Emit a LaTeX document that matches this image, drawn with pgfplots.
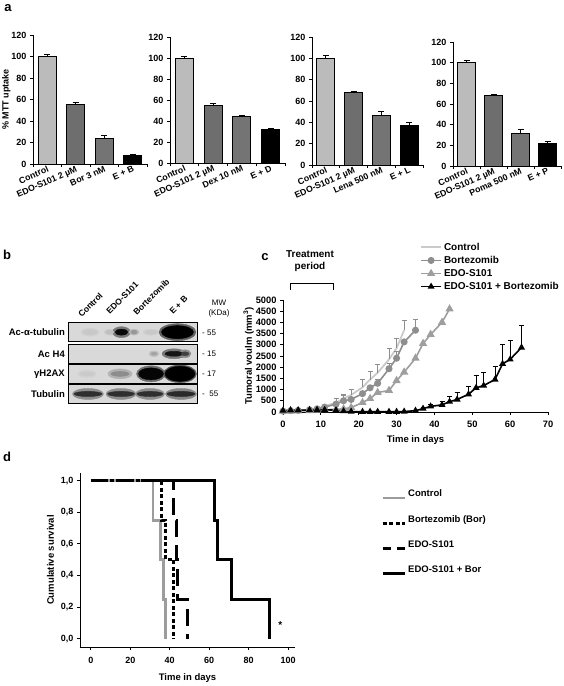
\documentclass[border=0pt]{standalone}
\usepackage{fontspec}
\setmainfont{Liberation Sans}
\usepackage{pgfplots}
\usepackage{pgfplotstable}
\pgfplotsset{compat=1.18}
\definecolor{barA}{HTML}{BBBBBB}
\definecolor{barB}{HTML}{6E6E6E}
\definecolor{barC}{HTML}{747474}
\definecolor{ctrl}{HTML}{CACACA}
\definecolor{bort}{HTML}{8E8E8E}
\definecolor{edo}{HTML}{9E9E9E}
\definecolor{kmgray}{HTML}{9C9C9C}
\definecolor{blotbg}{HTML}{D9D9D9}
\newcommand{\fs}[1]{\fontsize{#1}{#1}\selectfont}

% western blot bands: lane x (px), row y (-px), core half-size, intensity; halo half-size, intensity
\pgfplotstableread{
x     y       w    h    c     hw   hh   hc
90    -332.5  7    2.5  0.08  9    4    0.04
110   -332.5  4    2    0.12  6    3    0.06
121.5 -332.5  6.5  3    0.95  9    5.5  0.45
134   -332.5  3    2    0.30  5    3    0.15
151   -332.5  6    2    0.08  8    3    0.04
177.5 -332.5  16   6.5  1.00  18.5 8.5  0.55
154   -354    3    1.5  0.25  5    3    0.12
174   -354    9    2.5  0.90  12   5    0.45
185   -354    4    2    0.70  6    4    0.35
87    -374    7    2    0.07  9    4    0.03
120   -374    9    2.5  0.35  12   5    0.18
151   -374    12.5 6    0.97  14.5 8    0.50
180   -374    15   7.5  1.00  16.5 8.8  0.60
88    -394    14   2.6  0.78  15.5 5.5  0.35
121   -394    13.5 2.6  0.78  15   5.5  0.35
150   -394    13   2.6  0.78  14.5 5.5  0.35
181   -394    14   2.6  0.80  15.5 5.5  0.38
}\blotdata

\pgfplotsset{
  myax/.style={scale only axis, anchor=south west,
    axis lines=left, axis line style={-, line width=0.8pt},
    tick align=outside, major tick length=3pt,
    every tick/.style={black, line width=0.8pt},
    /pgf/number format/assume math mode=true,
    ticklabel style={font=\bfseries\fs{8.5}},
    label style={font=\bfseries\fs{9.5}},
  },
  barax/.style={myax, ymin=0, ymax=120, ytick={0,20,...,120},
    xmin=-0.5, xmax=3.5, xtick={-0.5,0.5,1.5,2.5,3.5}, xticklabels={},
    ticklabel style={font=\bfseries\fs{9}},
    extra x ticks={0,1,2,3},
    extra x tick style={major tick length=0pt,
      xticklabel style={rotate=24, anchor=north east, inner sep=1pt, font=\bfseries\fs{8.8}}},
    ybar, bar width=18pt, clip=false,
    ylabel style={yshift=-6pt, font=\bfseries\fs{9}},
    every axis plot/.append style={draw=black, line width=0.8pt, bar shift=0pt,
      error bars/y dir=plus, error bars/y explicit,
      error bars/error bar style={line width=0.8pt, black},
      error bars/error mark options={rotate=90, mark size=3pt, line width=0.8pt, black}},
  },
}

\begin{document}
\begin{tikzpicture}[x=1pt, y=1pt]
\path[use as bounding box] (0,0) rectangle (563,686);

% ---------------- panel a ----------------
\node[anchor=center, font=\bfseries\fs{13}] at (8,678) {a};

\begin{axis}[barax, at={(33pt,522pt)}, width=114pt, height=129pt,
  ylabel={\% MTT uptake},
  extra x tick labels={Control, EDO-S101 2 µM, Bor 3 nM, E + B}]
\addplot[fill=barA] coordinates {(0,100) +- (0,2)};
\addplot[fill=barB] coordinates {(1,55) +- (0,2)};
\addplot[fill=barC] coordinates {(2,23.5) +- (0,3.5)};
\addplot[fill=black] coordinates {(3,8) +- (0,1)};
\end{axis}

\begin{axis}[barax, at={(170pt,522.5pt)}, width=115pt, height=126pt,
  extra x tick labels={Control, EDO-S101 2 µM, Dex 10 nM, E + D}]
\addplot[fill=barA] coordinates {(0,100) +- (0,2)};
\addplot[fill=barB] coordinates {(1,55.5) +- (0,1.5)};
\addplot[fill=barC] coordinates {(2,44.5) +- (0,1)};
\addplot[fill=black] coordinates {(3,32) +- (0,1)};
\end{axis}

\begin{axis}[barax, at={(312pt,521pt)}, width=111pt, height=128pt,
  extra x tick labels={Control, EDO-S101 2 µM, Lena 500 nM, E + L}]
\addplot[fill=barA] coordinates {(0,100) +- (0,2.5)};
\addplot[fill=barB] coordinates {(1,68) +- (0,1)};
\addplot[fill=barC] coordinates {(2,46.5) +- (0,4)};
\addplot[fill=black] coordinates {(3,37.5) +- (0,2.5)};
\end{axis}

\begin{axis}[barax, at={(453pt,520pt)}, width=108pt, height=124pt,
  extra x tick labels={Control, EDO-S101 2 µM, Poma 500 nM, E + P}]
\addplot[fill=barA] coordinates {(0,100) +- (0,2)};
\addplot[fill=barB] coordinates {(1,68) +- (0,1)};
\addplot[fill=barC] coordinates {(2,31.5) +- (0,3.5)};
\addplot[fill=black] coordinates {(3,22) +- (0,2)};
\end{axis}

% ---------------- panel b ----------------
\node[anchor=center, font=\bfseries\fs{13}] at (7,431) {b};
\begin{axis}[scale only axis, anchor=south west, at={(68pt,282.7pt)},
  width=129pt, height=80.4pt, xmin=68, xmax=197, ymin=-403.3, ymax=-323.3,
  hide axis, clip=false,
  colormap={blotmap}{color(0cm)=(blotbg) color(1cm)=(black)},
  point meta min=0, point meta max=1]
\fill[blotbg] (axis cs:68,-341.7) rectangle (axis cs:197,-323.3);
\fill[blotbg] (axis cs:68,-363.3) rectangle (axis cs:197,-345);
\fill[blotbg] (axis cs:68,-383.3) rectangle (axis cs:197,-365);
\fill[blotbg] (axis cs:68,-403.3) rectangle (axis cs:197,-385);
\addplot[scatter, only marks, mark=*, mark size=1pt, point meta=explicit,
  scatter/use mapped color={draw=mapped color, fill=mapped color},
  visualization depends on={\thisrow{hw} \as \bw},
  visualization depends on={\thisrow{hh} \as \bh},
  scatter/@pre marker code/.append style={/tikz/xscale=\bw, /tikz/yscale=\bh}]
  table[x=x, y=y, meta=hc] {\blotdata};
\addplot[scatter, only marks, mark=*, mark size=1pt, point meta=explicit,
  scatter/use mapped color={draw=mapped color, fill=mapped color},
  visualization depends on={\thisrow{w} \as \bw},
  visualization depends on={\thisrow{h} \as \bh},
  scatter/@pre marker code/.append style={/tikz/xscale=\bw, /tikz/yscale=\bh}]
  table[x=x, y=y, meta=c] {\blotdata};
\draw[line width=1pt] (axis cs:68,-341.7) rectangle (axis cs:197,-323.3);
\draw[line width=1pt] (axis cs:68,-363.3) rectangle (axis cs:197,-345);
\draw[line width=1pt] (axis cs:68,-383.3) rectangle (axis cs:197,-365);
\draw[line width=1pt] (axis cs:68,-403.3) rectangle (axis cs:197,-385);
\end{axis}
\begin{scope}[every node/.style={font=\bfseries\fs{9.5}, anchor=east, inner sep=0pt}]
\node at (65,353.5) {Ac-α-tubulin};
\node at (65,332) {Ac H4};
\node at (65,312) {γH2AX};
\node at (65,292) {Tubulin};
\end{scope}
\begin{scope}[every node/.style={font=\fs{8}, anchor=west, inner sep=0pt}]
\node at (202,353.5) {- 55};
\node at (202,332) {- 15};
\node at (202,312) {- 17};
\node at (202,292) {- ~55};
\node[anchor=center] at (219,383.3) {MW};
\node[anchor=center] at (219,373) {(KDa)};
\end{scope}
\begin{scope}[every node/.style={font=\bfseries\fs{8.5}, anchor=south west, inner sep=0pt, rotate=45}]
\node at (82,367.7) {Control};
\node at (110,371) {EDO-S101};
\node at (137,370) {Bortezomib};
\node at (173,371) {E + B};
\end{scope}

% ---------------- panel c ----------------
\node[anchor=center, font=\bfseries\fs{13}] at (265,429) {c};
\node[align=center, font=\bfseries\fs{10}, inner sep=0pt] at (310,425) {Treatment\\[2pt]period};
\draw[line width=0.9pt] (290,396) -- (290,403) -- (333,403) -- (333,396);

\begin{axis}[myax, at={(283pt,274pt)}, width=265pt, height=112pt,
  xmin=0, xmax=70, ymin=0, ymax=5000,
  xtick={0,10,...,70}, ytick={0,500,...,5000},
  ticklabel style={font=\bfseries\fs{9.3}},
  xticklabel style={yshift=-2pt},
  scaled y ticks=false, /pgf/number format/1000 sep={},
  xlabel={Time in days}, ylabel={Tumoral voulm (mm\textsuperscript{3})},
  ylabel style={yshift=-5pt},
  xlabel style={yshift=-2pt},
  clip=false,
  legend style={at={(axis description cs:0.517,1.53)}, anchor=north west,
    draw=none, fill=none, font=\bfseries\fs{10}, row sep=0.5pt, inner sep=0pt,
    cells={anchor=west}},
  legend image code/.code={\draw[mark repeat=2, mark phase=2, #1]
    plot coordinates {(0pt,0pt) (10pt,0pt) (20pt,0pt)};},
  error bars/y dir=plus, error bars/y explicit,
  error bars/error mark options={rotate=90, mark size=2.5pt, line width=0.6pt}]
\addplot[ctrl, line width=1.8pt, no marks,
  error bars/error bar style={line width=0.6pt, bort}]
  coordinates {(0,40) (2,60) (4,70) (7,110) (9,160) (11,250)
  (14,420) +- (0,180) (16,600) +- (0,200) (18,760) +- (0,240)
  (21,1100) +- (0,350) (23,1450) +- (0,380) (25,1750) +- (0,390)
  (28,2350) +- (0,500) (30,2850) +- (0,440) (32,3650) +- (0,465)};
\addlegendentry{Control}
\addplot[bort, line width=1.6pt, mark=*, mark size=2.7pt, mark options={fill=bort},
  error bars/error bar style={line width=0.6pt, bort}]
  coordinates {(0,40) (2,60) (4,70) (7,100) (9,140) (11,220) (14,350)
  (16,500) +- (0,250) (18,560) (21,820) (23,1080) (25,1280) +- (0,170)
  (28,1930) +- (0,250) (30,2400) +- (0,300) (32,3130) (35,3650) +- (0,500)};
\addlegendentry{Bortezomib}
\addplot[edo, line width=1.6pt, mark=triangle*, mark size=3.2pt, mark options={fill=edo}]
  coordinates {(0,30) (2,40) (4,50) (7,60) (9,80) (11,100) (14,120) (16,140)
  (18,200) (21,420) (23,600) (25,870) (28,960) (30,1400) (32,1780)
  (35,2400) (37,3060) (39,3460) (42,4000) (44,4600)};
\addlegendentry{EDO-S101}
\addplot[black, line width=1.6pt, mark=triangle*, mark size=2.5pt,
  error bars/error bar style={line width=0.6pt, black}]
  coordinates {(0,60) (2,80) (4,80) (7,90) (9,100) (11,100) (14,80) (16,40)
  (18,20) (21,10) (23,10) (25,10) (28,10) (30,10) (32,20) (35,60)
  (37,150) +- (0,60) (39,250) +- (0,100) (42,320) +- (0,150)
  (44,460) +- (0,250) (46,560) +- (0,330) (49,790) +- (0,370)
  (51,1080) +- (0,550) (53,1180) +- (0,580) (56,1450) +- (0,580)
  (58,2150) +- (0,850) (60,2350) +- (0,830) (63,2880) +- (0,980)};
\addlegendentry{EDO-S101 + Bortezomib}
\end{axis}

% ---------------- panel d ----------------
\node[anchor=center, font=\bfseries\fs{13}] at (7,229) {d};
\begin{axis}[myax, at={(80pt,38.7pt)}, width=215pt, height=174.6pt,
  xmin=-5.5, xmax=103.5, ymin=-0.055, ymax=1.05,
  xtick={0,20,...,100}, ytick={0,0.2,0.4,0.6,0.8,1},
  yticklabel style={/pgf/number format/.cd, fixed, fixed zerofill, precision=1, use comma},
  ticklabel style={font=\bfseries\fs{9}},
  xticklabel style={yshift=-3pt},
  xlabel={Time in days}, ylabel={Cumulative survival},
  xlabel style={yshift=-4pt},
  clip=false,
  legend style={at={(axis description cs:1.4,0.915)}, anchor=north west,
    draw=none, fill=none, font=\bfseries\fs{9.5}, row sep=13pt, inner sep=0pt,
    cells={anchor=west}},
  legend image code/.code={\draw[#1] (0pt,-4pt) -- (22pt,-4pt);}]
\addlegendimage{kmgray, line width=2.8pt}
\addlegendentry{Control}
\addlegendimage{black, line width=3pt, dash pattern=on 4pt off 2.5pt}
\addlegendentry{Bortezomib (Bor)}
\addlegendimage{black, line width=3pt, dash pattern=on 8pt off 6pt}
\addlegendentry{EDO-S101}
\addlegendimage{black, line width=3pt}
\addlegendentry{EDO-S101 + Bor}
\addplot[black, line width=3pt, forget plot] coordinates {(0,1) (62.5,1) (62.5,0.75) (64,0.75) (64,0.5) (71.5,0.5) (71.5,0.25) (90.5,0.25) (90.5,0)};
\addplot[kmgray, line width=2.8pt, forget plot] coordinates {(0,1) (31.5,1) (31.5,0.75) (35.5,0.75) (35.5,0.5) (37,0.5) (37,0.25) (38,0.25) (38,0)};
\addplot[black, line width=3pt, dash pattern=on 4pt off 2.5pt, forget plot] coordinates {(0,1) (36,1) (36,0.75) (38,0.75) (38,0.5) (42,0.5) (42,0)};
\addplot[black, line width=3pt, dash pattern=on 17pt off 8pt, forget plot] coordinates {(0,1) (42,1) (42,0.75) (43.5,0.75) (43.5,0.5) (44,0.5) (44,0.25) (49,0.25) (49,0)};
\node[font=\bfseries\fs{10}] at (axis cs:96,0.085) {*};
\end{axis}
\end{tikzpicture}
\end{document}
